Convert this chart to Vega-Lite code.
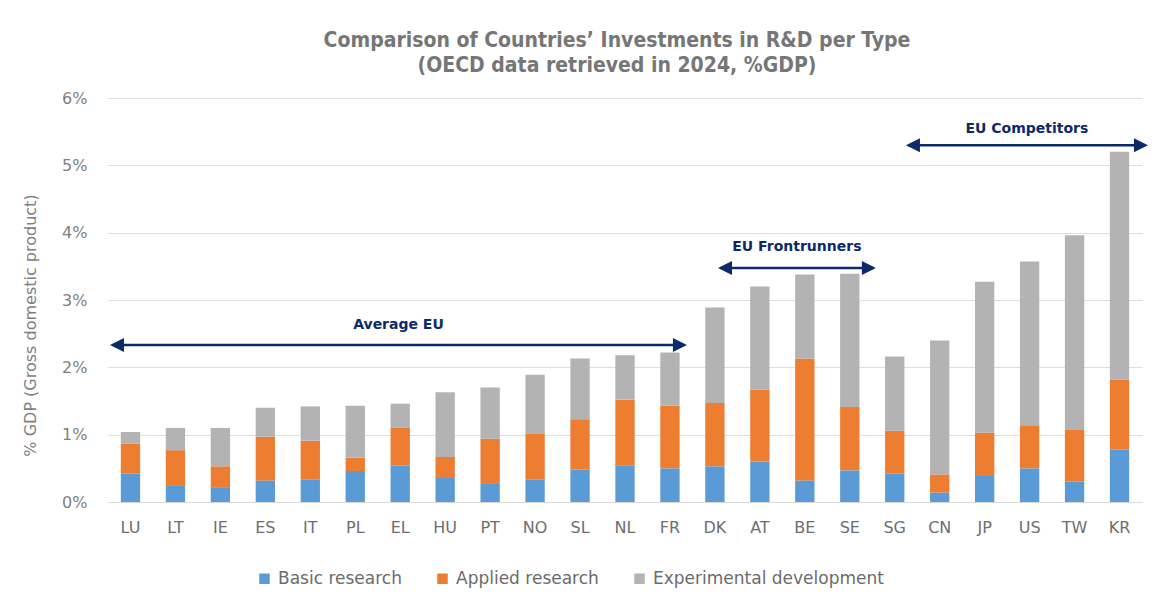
{
  "$schema": "https://vega.github.io/schema/vega-lite/v6.json",
  "width": 1034,
  "height": 404,
  "autosize": {"type": "none"},
  "padding": {"left": 108, "top": 98, "right": 31, "bottom": 93},
  "background": "white",
  "title": {
    "text": ["Comparison of Countries’ Investments in R&D per Type", "(OECD data retrieved in 2024, %GDP)"],
    "font": "DejaVu Sans Condensed, DejaVu Sans",
    "fontSize": 21,
    "fontWeight": "bold",
    "color": "#767676",
    "lineHeight": 25,
    "offset": 14,
    "anchor": "middle",
    "dx": -8
  },
  "config": {
    "view": {"stroke": null},
    "font": "DejaVu Sans"
  },
  "datasets": {
    "rd": [
      {"country": "LU", "Basic research": 0.42, "Applied research": 0.45, "Experimental development": 0.17},
      {"country": "LT", "Basic research": 0.25, "Applied research": 0.52, "Experimental development": 0.33},
      {"country": "IE", "Basic research": 0.22, "Applied research": 0.31, "Experimental development": 0.57},
      {"country": "ES", "Basic research": 0.32, "Applied research": 0.65, "Experimental development": 0.43},
      {"country": "IT", "Basic research": 0.33, "Applied research": 0.58, "Experimental development": 0.51},
      {"country": "PL", "Basic research": 0.46, "Applied research": 0.20, "Experimental development": 0.77},
      {"country": "EL", "Basic research": 0.54, "Applied research": 0.56, "Experimental development": 0.36},
      {"country": "HU", "Basic research": 0.37, "Applied research": 0.30, "Experimental development": 0.96},
      {"country": "PT", "Basic research": 0.28, "Applied research": 0.66, "Experimental development": 0.76},
      {"country": "NO", "Basic research": 0.33, "Applied research": 0.69, "Experimental development": 0.87},
      {"country": "SL", "Basic research": 0.48, "Applied research": 0.75, "Experimental development": 0.90},
      {"country": "NL", "Basic research": 0.54, "Applied research": 0.98, "Experimental development": 0.66},
      {"country": "FR", "Basic research": 0.50, "Applied research": 0.93, "Experimental development": 0.79},
      {"country": "DK", "Basic research": 0.53, "Applied research": 0.94, "Experimental development": 1.42},
      {"country": "AT", "Basic research": 0.60, "Applied research": 1.07, "Experimental development": 1.53},
      {"country": "BE", "Basic research": 0.32, "Applied research": 1.81, "Experimental development": 1.25},
      {"country": "SE", "Basic research": 0.47, "Applied research": 0.94, "Experimental development": 1.98},
      {"country": "SG", "Basic research": 0.42, "Applied research": 0.64, "Experimental development": 1.10},
      {"country": "CN", "Basic research": 0.14, "Applied research": 0.27, "Experimental development": 1.99},
      {"country": "JP", "Basic research": 0.40, "Applied research": 0.63, "Experimental development": 2.24},
      {"country": "US", "Basic research": 0.50, "Applied research": 0.64, "Experimental development": 2.43},
      {"country": "TW", "Basic research": 0.30, "Applied research": 0.77, "Experimental development": 2.89},
      {"country": "KR", "Basic research": 0.78, "Applied research": 1.04, "Experimental development": 3.38}
    ],
    "arrows": [
      {"label": "Average EU", "from": "LU", "to": "FR", "at": "EL", "y": 2.33, "ylab": 2.63},
      {"label": "EU Frontrunners", "from": "DK", "to": "SE", "at": "BE", "y": 3.475, "ylab": 3.79},
      {"label": "EU Competitors", "from": "SG", "to": "KR", "at": "US", "y": 5.3, "ylab": 5.54}
    ]
  },
  "layer": [
    {
      "data": {"name": "rd"},
      "transform": [
        {"fold": ["Basic research", "Applied research", "Experimental development"], "as": ["type", "value"]},
        {"window": [{"op": "row_number", "as": "k"}], "groupby": ["country"]}
      ],
      "mark": {"type": "bar"},
      "encoding": {
        "x": {
          "field": "country", "type": "nominal",
          "scale": {
            "domain": ["LU", "LT", "IE", "ES", "IT", "PL", "EL", "HU", "PT", "NO", "SL", "NL", "FR", "DK", "AT", "BE", "SE", "SG", "CN", "JP", "US", "TW", "KR"],
            "paddingInner": 0.57, "paddingOuter": 0.285
          },
          "axis": {
            "title": null, "labelAngle": 0, "domain": true, "domainColor": "#d9d9d9", "domainWidth": 1.2,
            "ticks": false, "labelPadding": 17, "labelFontSize": 16, "labelColor": "#6e6e6e", "labelFont": "DejaVu Sans"
          }
        },
        "y": {
          "field": "value", "type": "quantitative", "stack": "zero",
          "scale": {"domain": [0, 6], "nice": false},
          "axis": {
            "values": [0, 1, 2, 3, 4, 5, 6],
            "labelExpr": "datum.value + '%'",
            "grid": true, "gridColor": "#dedede", "gridWidth": 1.2,
            "domain": false, "ticks": false, "labelPadding": 21,
            "labelFontSize": 16, "labelColor": "#7f7f7f", "labelFont": "DejaVu Sans",
            "title": "% GDP (Gross domestic product)",
            "titleFontSize": 16, "titleFontWeight": "normal", "titleColor": "#7f7f7f", "titleFont": "DejaVu Sans",
            "titleX": -78, "titleY": 227, "titleAngle": -90, "titleAlign": "center", "titleBaseline": "middle"
          }
        },
        "color": {
          "field": "type", "type": "nominal",
          "scale": {
            "domain": ["Basic research", "Applied research", "Experimental development"],
            "range": ["#5b9bd5", "#ed7d31", "#b3b3b3"]
          },
          "legend": {
            "title": null, "orient": "none", "legendX": 148, "legendY": 472, "direction": "horizontal",
            "symbolType": "square", "symbolSize": 110, "symbolStrokeWidth": 0,
            "labelFontSize": 17, "labelColor": "#6b6b6b", "labelFont": "DejaVu Sans",
            "columnPadding": 32, "labelOffset": 5, "labelLimit": 400
          }
        },
        "order": {"field": "k", "type": "quantitative", "sort": "ascending"}
      }
    },
    {
      "data": {"name": "arrows"},
      "transform": [{"filter": "datum.label === 'Average EU'"}],
      "layer": [
        {"mark": {"type": "rule", "color": "#0c2a6a", "strokeWidth": 2.5},
         "encoding": {"x": {"field": "from", "type": "nominal", "bandPosition": -0.4}, "x2": {"field": "to", "bandPosition": 1.2}, "y": {"field": "y", "type": "quantitative"}}},
        {"mark": {"type": "point", "shape": "M0,0L2,-1L2,1Z", "filled": true, "color": "#0c2a6a", "size": 196, "opacity": 1},
         "encoding": {"x": {"field": "from", "type": "nominal", "bandPosition": -0.56}, "y": {"field": "y", "type": "quantitative"}}},
        {"mark": {"type": "point", "shape": "M0,0L-2,-1L-2,1Z", "filled": true, "color": "#0c2a6a", "size": 196, "opacity": 1},
         "encoding": {"x": {"field": "to", "type": "nominal", "bandPosition": 1.38}, "y": {"field": "y", "type": "quantitative"}}},
        {"mark": {"type": "text", "color": "#0c2a6a", "fontWeight": "bold", "fontSize": 14, "font": "DejaVu Sans", "baseline": "middle"},
         "encoding": {"x": {"field": "at", "type": "nominal", "bandPosition": 0.41}, "y": {"field": "ylab", "type": "quantitative"}, "text": {"field": "label"}}}
      ]
    },
    {
      "data": {"name": "arrows"},
      "transform": [{"filter": "datum.label === 'EU Frontrunners'"}],
      "layer": [
        {"mark": {"type": "rule", "color": "#0c2a6a", "strokeWidth": 2.5},
         "encoding": {"x": {"field": "from", "type": "nominal", "bandPosition": 0.8}, "x2": {"field": "to", "bandPosition": 1.7}, "y": {"field": "y", "type": "quantitative"}}},
        {"mark": {"type": "point", "shape": "M0,0L2,-1L2,1Z", "filled": true, "color": "#0c2a6a", "size": 196, "opacity": 1},
         "encoding": {"x": {"field": "from", "type": "nominal", "bandPosition": 0.66}, "y": {"field": "y", "type": "quantitative"}}},
        {"mark": {"type": "point", "shape": "M0,0L-2,-1L-2,1Z", "filled": true, "color": "#0c2a6a", "size": 196, "opacity": 1},
         "encoding": {"x": {"field": "to", "type": "nominal", "bandPosition": 1.85}, "y": {"field": "y", "type": "quantitative"}}},
        {"mark": {"type": "text", "color": "#0c2a6a", "fontWeight": "bold", "fontSize": 14, "font": "DejaVu Sans", "baseline": "middle"},
         "encoding": {"x": {"field": "at", "type": "nominal", "bandPosition": 0.09}, "y": {"field": "ylab", "type": "quantitative"}, "text": {"field": "label"}}}
      ]
    },
    {
      "data": {"name": "arrows"},
      "transform": [{"filter": "datum.label === 'EU Competitors'"}],
      "layer": [
        {"mark": {"type": "rule", "color": "#0c2a6a", "strokeWidth": 2.5},
         "encoding": {"x": {"field": "from", "type": "nominal", "bandPosition": 1.2}, "x2": {"field": "to", "bandPosition": 1.8}, "y": {"field": "y", "type": "quantitative"}}},
        {"mark": {"type": "point", "shape": "M0,0L2,-1L2,1Z", "filled": true, "color": "#0c2a6a", "size": 196, "opacity": 1},
         "encoding": {"x": {"field": "from", "type": "nominal", "bandPosition": 1.08}, "y": {"field": "y", "type": "quantitative"}}},
        {"mark": {"type": "point", "shape": "M0,0L-2,-1L-2,1Z", "filled": true, "color": "#0c2a6a", "size": 196, "opacity": 1},
         "encoding": {"x": {"field": "to", "type": "nominal", "bandPosition": 1.97}, "y": {"field": "y", "type": "quantitative"}}},
        {"mark": {"type": "text", "color": "#0c2a6a", "fontWeight": "bold", "fontSize": 14, "font": "DejaVu Sans", "baseline": "middle"},
         "encoding": {"x": {"field": "at", "type": "nominal", "bandPosition": 0.36}, "y": {"field": "ylab", "type": "quantitative"}, "text": {"field": "label"}}}
      ]
    }
  ]
}
